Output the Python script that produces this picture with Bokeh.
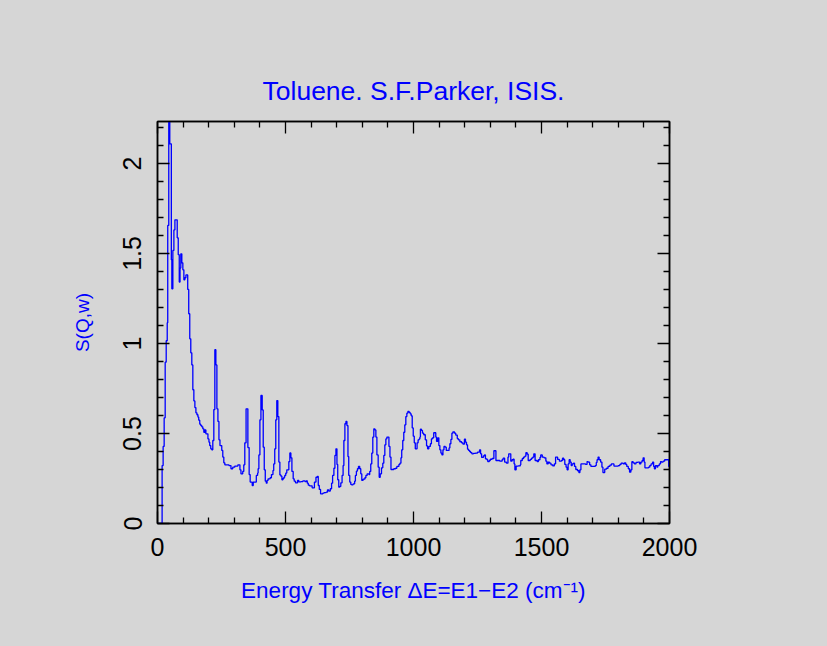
from bokeh.plotting import figure
from bokeh.models import LinearAxis, FixedTicker, Range1d
from bokeh.embed import file_html
from bokeh.resources import INLINE

energy = [0, 18, 22, 26, 30, 34, 38, 40, 44, 48, 54, 56, 60, 64, 68, 77, 81, 85, 88, 91,
          95, 99, 103, 107, 111, 118, 122, 126, 130, 134, 138, 142, 146, 150, 154, 158, 161,
          165, 169, 173, 177, 181, 185, 189, 197, 201, 204, 208, 212, 216, 220, 224, 228,
          232, 236, 240, 244, 251, 255, 259, 263, 279, 287, 294, 302, 314, 322, 326, 333,
          337, 341, 346, 353, 358, 362, 370, 374, 386, 391, 393, 396, 400, 404, 409, 413,
          417, 421, 425, 428, 432, 440, 445, 451, 454, 458, 462, 466, 470, 474, 478, 482,
          486, 490, 494, 497, 501, 505, 513, 517, 521, 525, 530, 534, 539, 547, 552, 560,
          568, 576, 581, 585, 589, 594, 604, 613, 619, 624, 628, 632, 637, 646, 651, 659,
          664, 669, 675, 680, 684, 689, 693, 697, 701, 704, 708, 712, 716, 721, 725, 728,
          732, 736, 740, 744, 747, 751, 755, 758, 764, 770, 773, 777, 781, 785, 790, 794,
          798, 803, 810, 814, 819, 826, 829, 833, 837, 841, 845, 849, 853, 857, 862, 866,
          870, 875, 880, 884, 888, 892, 896, 904, 908, 912, 923, 930, 935, 943, 947, 951,
          954, 958, 962, 966, 970, 974, 978, 983, 987, 991, 995, 999, 1003, 1007, 1014,
          1018, 1022, 1025, 1027, 1031, 1035, 1040, 1046, 1051, 1055, 1060, 1066, 1070,
          1074, 1079, 1087, 1090, 1095, 1099, 1103, 1107, 1111, 1115, 1119, 1124, 1128,
          1139, 1142, 1146, 1150, 1154, 1160, 1165, 1171, 1175, 1181, 1188, 1193, 1199,
          1203, 1207, 1211, 1215, 1219, 1223, 1228, 1234, 1242, 1250, 1258, 1262, 1266,
          1273, 1277, 1281, 1287, 1290, 1296, 1300, 1307, 1314, 1322, 1337, 1346, 1350,
          1356, 1363, 1369, 1372, 1380, 1385, 1389, 1393, 1396, 1401, 1409, 1417, 1419,
          1425, 1430, 1435, 1439, 1444, 1448, 1456, 1461, 1466, 1470, 1475, 1483, 1488,
          1494, 1497, 1503, 1510, 1517, 1521, 1526, 1531, 1537, 1544, 1550, 1555, 1563,
          1570, 1578, 1582, 1587, 1591, 1596, 1600, 1604, 1608, 1612, 1616, 1620, 1625,
          1629, 1634, 1641, 1646, 1650, 1654, 1672, 1678, 1682, 1688, 1693, 1710, 1714,
          1717, 1721, 1725, 1731, 1736, 1740, 1747, 1754, 1760, 1767, 1773, 1783, 1800,
          1806, 1811, 1819, 1824, 1829, 1833, 1839, 1844, 1849, 1853, 1858, 1863, 1869,
          1876, 1883, 1888, 1893, 1897, 1901, 1904, 1918, 1923, 1928, 1934, 1938, 1941,
          1945, 1951, 1954, 1960, 1965, 1969, 1975, 1981, 1992, 1997, 2000]

sqw = [0.0, 0.322, 0.428, 0.587, 0.896, 1.015, 1.115, 1.656, 2.45, 2.109, 1.465, 1.304,
       1.517, 1.631, 1.687, 1.587, 1.493, 1.341, 1.419, 1.498, 1.448, 1.409, 1.354, 1.365,
       1.381, 1.300, 1.165, 1.026, 0.948, 0.881, 0.743, 0.681, 0.644, 0.615, 0.604, 0.591,
       0.574, 0.552, 0.544, 0.537, 0.526, 0.507, 0.520, 0.498, 0.470, 0.452, 0.433, 0.415,
       0.409, 0.461, 0.633, 0.965, 0.881, 0.637, 0.567, 0.465, 0.433, 0.406, 0.369, 0.337,
       0.326, 0.322, 0.304, 0.313, 0.319, 0.326, 0.298, 0.276, 0.289, 0.326, 0.448, 0.637,
       0.422, 0.272, 0.230, 0.211, 0.230, 0.267, 0.280, 0.304, 0.381, 0.576, 0.711, 0.631,
       0.424, 0.298, 0.235, 0.224, 0.239, 0.248, 0.254, 0.272, 0.294, 0.331, 0.415, 0.576,
       0.683, 0.594, 0.341, 0.270, 0.263, 0.243, 0.250, 0.257, 0.267, 0.280, 0.298, 0.344,
       0.392, 0.365, 0.289, 0.248, 0.235, 0.226, 0.239, 0.231, 0.233, 0.237, 0.233, 0.237,
       0.224, 0.213, 0.209, 0.198, 0.230, 0.257, 0.261, 0.211, 0.189, 0.165, 0.169, 0.172,
       0.174, 0.187, 0.180, 0.193, 0.224, 0.267, 0.307, 0.378, 0.415, 0.328, 0.243, 0.202,
       0.206, 0.226, 0.267, 0.322, 0.461, 0.554, 0.567, 0.544, 0.372, 0.267, 0.230, 0.217,
       0.215, 0.220, 0.235, 0.267, 0.291, 0.304, 0.317, 0.304, 0.276, 0.239, 0.246, 0.254,
       0.267, 0.276, 0.272, 0.289, 0.331, 0.391, 0.480, 0.526, 0.520, 0.480, 0.381, 0.313,
       0.257, 0.276, 0.309, 0.335, 0.378, 0.437, 0.470, 0.480, 0.428, 0.369, 0.300, 0.304,
       0.307, 0.317, 0.328, 0.335, 0.365, 0.409, 0.461, 0.507, 0.548, 0.594, 0.613, 0.622,
       0.617, 0.609, 0.598, 0.531, 0.485, 0.448, 0.415, 0.448, 0.465, 0.470, 0.480, 0.524,
       0.517, 0.502, 0.493, 0.465, 0.431, 0.415, 0.428, 0.443, 0.470, 0.476, 0.504, 0.480,
       0.456, 0.476, 0.433, 0.409, 0.391, 0.381, 0.409, 0.428, 0.424, 0.406, 0.420, 0.443,
       0.467, 0.502, 0.509, 0.502, 0.491, 0.472, 0.465, 0.454, 0.448, 0.441, 0.469, 0.452,
       0.437, 0.413, 0.406, 0.400, 0.394, 0.387, 0.389, 0.391, 0.396, 0.409, 0.387, 0.367,
       0.376, 0.381, 0.359, 0.354, 0.344, 0.350, 0.357, 0.361, 0.404, 0.350, 0.346, 0.354,
       0.363, 0.341, 0.335, 0.369, 0.387, 0.346, 0.354, 0.357, 0.331, 0.298, 0.319, 0.320,
       0.326, 0.350, 0.361, 0.369, 0.374, 0.393, 0.385, 0.350, 0.356, 0.363, 0.369, 0.387,
       0.350, 0.344, 0.354, 0.367, 0.381, 0.369, 0.365, 0.346, 0.331, 0.341, 0.335, 0.326,
       0.320, 0.331, 0.369, 0.356, 0.346, 0.350, 0.363, 0.354, 0.328, 0.313, 0.298, 0.331,
       0.354, 0.341, 0.322, 0.331, 0.335, 0.317, 0.300, 0.293, 0.283, 0.298, 0.331, 0.328,
       0.344, 0.341, 0.326, 0.317, 0.322, 0.339, 0.354, 0.369, 0.354, 0.341, 0.313, 0.283,
       0.302, 0.307, 0.317, 0.324, 0.331, 0.319, 0.322, 0.328, 0.335, 0.331, 0.337, 0.328,
       0.317, 0.304, 0.285, 0.298, 0.343, 0.337, 0.331, 0.339, 0.341, 0.331, 0.341, 0.350,
       0.365, 0.341, 0.309, 0.313, 0.322, 0.331, 0.341, 0.317, 0.304, 0.322, 0.313, 0.322,
       0.331, 0.344, 0.341, 0.346, 0.354, 0.354, 0.317, 0.317]

x_major = [0, 500, 1000, 1500, 2000]
x_minor = [100, 200, 300, 400, 600, 700, 800, 900, 1100, 1200, 1300, 1400, 1600, 1700, 1800, 1900]
y_major = [0, 0.5, 1, 1.5, 2]
y_labels = {0: "0", 0.5: "0.5", 1: "1", 1.5: "1.5", 2: "2"}
y_minor = [0.1, 0.2, 0.3, 0.4, 0.6, 0.7, 0.8, 0.9, 1.1, 1.2, 1.3, 1.4, 1.6, 1.7, 1.8, 1.9, 2.1, 2.2]

title_text = "Toluene. S.F.Parker, ISIS."
x_label = "Energy Transfer \u0394E=E1\u2212E2 (cm\u207b\u00b9)"
y_label = "S(Q,w)"

BG = "#d6d6d6"
BLUE = "#0000ff"
FONT = "Liberation Sans"

p = figure(frame_width=512, frame_height=402,
           min_border_left=149, min_border_right=150,
           min_border_top=113, min_border_bottom=115,
           x_range=Range1d(0, 2000), y_range=Range1d(0, 2.233),
           output_backend="svg", toolbar_location=None,
           background_fill_color=BG, border_fill_color=BG,
           title=title_text)

p.title.text_color = BLUE
p.title.text_font = FONT
p.title.text_font_size = "26.5px"
p.title.text_font_style = "normal"
p.title.align = "center"
p.title.standoff = 31

p.grid.visible = False
p.outline_line_color = "black"
p.outline_line_width = 1.5

p.step(energy, sqw, mode="after", line_color=BLUE, line_width=1.3)


def style_axis(ax, ticks, minor, show_labels):
    ax.ticker = FixedTicker(ticks=ticks, minor_ticks=minor)
    ax.axis_line_color = "black"
    ax.axis_line_width = 1.5
    ax.major_tick_in = 12
    ax.major_tick_out = 0
    ax.minor_tick_in = 6
    ax.minor_tick_out = 0
    ax.major_tick_line_color = "black"
    ax.minor_tick_line_color = "black"
    ax.major_tick_line_width = 1.3
    ax.minor_tick_line_width = 1.3
    if show_labels:
        ax.major_label_text_font = FONT
        ax.major_label_text_font_size = "25px"
        ax.major_label_text_color = "black"
    else:
        ax.major_label_text_font_size = "1px"
        ax.major_label_text_color = None
        ax.major_label_standoff = 0


xa = p.xaxis[0]
style_axis(xa, x_major, x_minor, True)
xa.major_label_standoff = 14
xa.axis_label = x_label
xa.axis_label_text_color = BLUE
xa.axis_label_text_font = FONT
xa.axis_label_text_font_size = "22.5px"
xa.axis_label_text_font_style = "normal"
xa.axis_label_standoff = 19

ya = p.yaxis[0]
style_axis(ya, y_major, y_minor, True)
ya.major_label_overrides = y_labels
ya.major_label_orientation = "vertical"
ya.major_label_standoff = 16
ya.axis_label = y_label
ya.axis_label_text_color = BLUE
ya.axis_label_text_font = FONT
ya.axis_label_text_font_size = "19px"
ya.axis_label_text_font_style = "normal"
ya.axis_label_standoff = 28

ra = LinearAxis()
style_axis(ra, y_major, y_minor, False)
p.add_layout(ra, "right")
ta = LinearAxis()
style_axis(ta, x_major, x_minor, False)
p.add_layout(ta, "above")

html = file_html(p, INLINE)
html = html.replace("</head>", "<style>body{background:%s;margin:8px;}</style></head>" % BG, 1)
open("out.html", "w").write(html)
